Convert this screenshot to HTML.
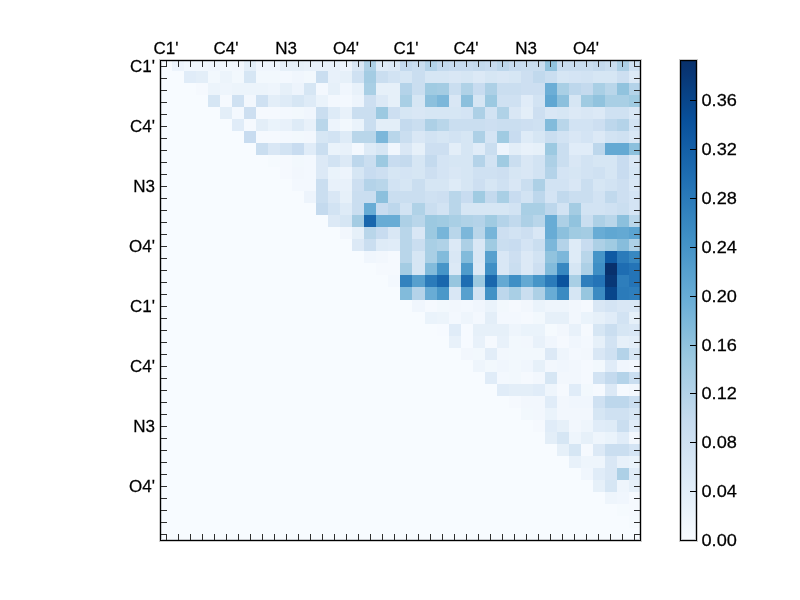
<!DOCTYPE html><html><head><meta charset="utf-8"><style>html,body{margin:0;padding:0;background:#fff;}svg{display:block;}text{font-family:"Liberation Sans",sans-serif;font-size:16.67px;fill:#000;}</style></head><body>
<svg width="800" height="600" viewBox="0 0 800 600">
<rect width="800" height="600" fill="#fff"/>
<g shape-rendering="crispEdges">
<rect x="160" y="60" width="480" height="480" fill="#f7fbff"/>
<rect x="172" y="60" width="12" height="11" fill="#edf4fc"/>
<rect x="184" y="60" width="12" height="11" fill="#f1f7fd"/>
<rect x="196" y="60" width="12" height="11" fill="#f1f7fd"/>
<rect x="208" y="60" width="12" height="11" fill="#f0f6fd"/>
<rect x="220" y="60" width="12" height="11" fill="#f2f8fd"/>
<rect x="232" y="60" width="12" height="11" fill="#f2f7fd"/>
<rect x="244" y="60" width="12" height="11" fill="#e3eef8"/>
<rect x="256" y="60" width="12" height="11" fill="#f0f6fd"/>
<rect x="268" y="60" width="12" height="11" fill="#f0f6fd"/>
<rect x="280" y="60" width="12" height="11" fill="#e6f0f9"/>
<rect x="292" y="60" width="12" height="11" fill="#e6f0f9"/>
<rect x="304" y="60" width="12" height="11" fill="#e8f1fa"/>
<rect x="316" y="60" width="12" height="11" fill="#e8f1fa"/>
<rect x="328" y="60" width="12" height="11" fill="#e8f1fa"/>
<rect x="340" y="60" width="12" height="11" fill="#edf4fc"/>
<rect x="352" y="60" width="12" height="11" fill="#d9e7f5"/>
<rect x="364" y="60" width="12" height="11" fill="#add0e6"/>
<rect x="376" y="60" width="12" height="11" fill="#deebf7"/>
<rect x="388" y="60" width="12" height="11" fill="#dce9f6"/>
<rect x="400" y="60" width="12" height="11" fill="#c4daee"/>
<rect x="412" y="60" width="13" height="11" fill="#cadef0"/>
<rect x="425" y="60" width="12" height="11" fill="#b4d3e9"/>
<rect x="437" y="60" width="12" height="11" fill="#c4daee"/>
<rect x="449" y="60" width="12" height="11" fill="#c8dcf0"/>
<rect x="461" y="60" width="12" height="11" fill="#c8dcf0"/>
<rect x="473" y="60" width="12" height="11" fill="#c4daee"/>
<rect x="485" y="60" width="12" height="11" fill="#c8dcf0"/>
<rect x="497" y="60" width="12" height="11" fill="#bdd7ec"/>
<rect x="509" y="60" width="12" height="11" fill="#c8dcf0"/>
<rect x="521" y="60" width="12" height="11" fill="#cadef0"/>
<rect x="533" y="60" width="12" height="11" fill="#cadef0"/>
<rect x="545" y="60" width="12" height="11" fill="#91c3de"/>
<rect x="557" y="60" width="12" height="11" fill="#cadef0"/>
<rect x="569" y="60" width="12" height="11" fill="#cadef0"/>
<rect x="581" y="60" width="12" height="11" fill="#cadef0"/>
<rect x="593" y="60" width="12" height="11" fill="#c4daee"/>
<rect x="605" y="60" width="12" height="11" fill="#cadef0"/>
<rect x="617" y="60" width="12" height="11" fill="#add0e6"/>
<rect x="629" y="60" width="11" height="11" fill="#cfe1f2"/>
<rect x="184" y="71" width="12" height="12" fill="#e0ecf8"/>
<rect x="196" y="71" width="12" height="12" fill="#e3eef8"/>
<rect x="208" y="71" width="12" height="12" fill="#f2f8fd"/>
<rect x="220" y="71" width="12" height="12" fill="#ecf4fb"/>
<rect x="232" y="71" width="12" height="12" fill="#f2f8fd"/>
<rect x="244" y="71" width="12" height="12" fill="#d6e6f4"/>
<rect x="256" y="71" width="12" height="12" fill="#f2f8fd"/>
<rect x="268" y="71" width="12" height="12" fill="#f2f8fd"/>
<rect x="280" y="71" width="12" height="12" fill="#f3f8fe"/>
<rect x="292" y="71" width="12" height="12" fill="#f0f6fd"/>
<rect x="304" y="71" width="12" height="12" fill="#f2f8fd"/>
<rect x="316" y="71" width="12" height="12" fill="#cadef0"/>
<rect x="328" y="71" width="12" height="12" fill="#e8f1fa"/>
<rect x="340" y="71" width="12" height="12" fill="#e6f0f9"/>
<rect x="352" y="71" width="12" height="12" fill="#cfe1f2"/>
<rect x="364" y="71" width="12" height="12" fill="#a4cce3"/>
<rect x="376" y="71" width="12" height="12" fill="#cadef0"/>
<rect x="388" y="71" width="12" height="12" fill="#d2e3f3"/>
<rect x="400" y="71" width="12" height="12" fill="#d6e6f4"/>
<rect x="412" y="71" width="13" height="12" fill="#cadef0"/>
<rect x="425" y="71" width="12" height="12" fill="#d6e6f4"/>
<rect x="437" y="71" width="12" height="12" fill="#d6e6f4"/>
<rect x="449" y="71" width="12" height="12" fill="#d9e7f5"/>
<rect x="461" y="71" width="12" height="12" fill="#d6e6f4"/>
<rect x="473" y="71" width="12" height="12" fill="#dce9f6"/>
<rect x="485" y="71" width="12" height="12" fill="#d6e6f4"/>
<rect x="497" y="71" width="12" height="12" fill="#d9e7f5"/>
<rect x="509" y="71" width="12" height="12" fill="#d6e6f4"/>
<rect x="521" y="71" width="12" height="12" fill="#cddff1"/>
<rect x="533" y="71" width="12" height="12" fill="#c1d9ed"/>
<rect x="545" y="71" width="12" height="12" fill="#cadef0"/>
<rect x="557" y="71" width="12" height="12" fill="#d6e6f4"/>
<rect x="569" y="71" width="12" height="12" fill="#d4e4f4"/>
<rect x="581" y="71" width="12" height="12" fill="#d2e3f3"/>
<rect x="593" y="71" width="12" height="12" fill="#d6e6f4"/>
<rect x="605" y="71" width="12" height="12" fill="#d6e6f4"/>
<rect x="617" y="71" width="12" height="12" fill="#cddff1"/>
<rect x="629" y="71" width="11" height="12" fill="#dce9f6"/>
<rect x="196" y="83" width="12" height="12" fill="#f5f9fe"/>
<rect x="208" y="83" width="12" height="12" fill="#ecf4fb"/>
<rect x="220" y="83" width="12" height="12" fill="#eef5fc"/>
<rect x="232" y="83" width="12" height="12" fill="#ecf4fb"/>
<rect x="244" y="83" width="12" height="12" fill="#ecf4fb"/>
<rect x="256" y="83" width="12" height="12" fill="#ecf4fb"/>
<rect x="268" y="83" width="12" height="12" fill="#eef5fc"/>
<rect x="280" y="83" width="12" height="12" fill="#e6f0f9"/>
<rect x="292" y="83" width="12" height="12" fill="#edf4fc"/>
<rect x="304" y="83" width="12" height="12" fill="#d6e6f4"/>
<rect x="316" y="83" width="12" height="12" fill="#f3f8fe"/>
<rect x="328" y="83" width="12" height="12" fill="#e6f0f9"/>
<rect x="340" y="83" width="12" height="12" fill="#f0f6fd"/>
<rect x="352" y="83" width="12" height="12" fill="#e8f1fa"/>
<rect x="364" y="83" width="12" height="12" fill="#a9cfe5"/>
<rect x="376" y="83" width="12" height="12" fill="#e6f0f9"/>
<rect x="388" y="83" width="12" height="12" fill="#e6f0f9"/>
<rect x="400" y="83" width="12" height="12" fill="#b4d3e9"/>
<rect x="412" y="83" width="13" height="12" fill="#cadef0"/>
<rect x="425" y="83" width="12" height="12" fill="#a0cbe2"/>
<rect x="437" y="83" width="12" height="12" fill="#a4cce3"/>
<rect x="449" y="83" width="12" height="12" fill="#cadef0"/>
<rect x="461" y="83" width="12" height="12" fill="#b0d2e7"/>
<rect x="473" y="83" width="12" height="12" fill="#c8dcf0"/>
<rect x="485" y="83" width="12" height="12" fill="#add0e6"/>
<rect x="497" y="83" width="12" height="12" fill="#cadef0"/>
<rect x="509" y="83" width="12" height="12" fill="#cadef0"/>
<rect x="521" y="83" width="12" height="12" fill="#cddff1"/>
<rect x="533" y="83" width="12" height="12" fill="#cddff1"/>
<rect x="545" y="83" width="12" height="12" fill="#6caed6"/>
<rect x="557" y="83" width="12" height="12" fill="#a9cfe5"/>
<rect x="569" y="83" width="12" height="12" fill="#bdd7ec"/>
<rect x="581" y="83" width="12" height="12" fill="#c4daee"/>
<rect x="593" y="83" width="12" height="12" fill="#a9cfe5"/>
<rect x="605" y="83" width="12" height="12" fill="#b9d6ea"/>
<rect x="617" y="83" width="12" height="12" fill="#91c3de"/>
<rect x="629" y="83" width="11" height="12" fill="#b4d3e9"/>
<rect x="208" y="95" width="12" height="12" fill="#d6e6f4"/>
<rect x="220" y="95" width="12" height="12" fill="#f5f9fe"/>
<rect x="232" y="95" width="12" height="12" fill="#cfe1f2"/>
<rect x="244" y="95" width="12" height="12" fill="#f2f7fd"/>
<rect x="256" y="95" width="12" height="12" fill="#cfe1f2"/>
<rect x="268" y="95" width="12" height="12" fill="#e3eef8"/>
<rect x="280" y="95" width="12" height="12" fill="#deebf7"/>
<rect x="292" y="95" width="12" height="12" fill="#d6e6f4"/>
<rect x="304" y="95" width="12" height="12" fill="#deebf7"/>
<rect x="316" y="95" width="12" height="12" fill="#eaf3fb"/>
<rect x="328" y="95" width="12" height="12" fill="#f3f8fe"/>
<rect x="340" y="95" width="12" height="12" fill="#f3f8fe"/>
<rect x="352" y="95" width="12" height="12" fill="#edf4fc"/>
<rect x="364" y="95" width="12" height="12" fill="#cddff1"/>
<rect x="376" y="95" width="12" height="12" fill="#dce9f6"/>
<rect x="388" y="95" width="12" height="12" fill="#e6f0f9"/>
<rect x="400" y="95" width="12" height="12" fill="#a9cfe5"/>
<rect x="412" y="95" width="13" height="12" fill="#d6e6f4"/>
<rect x="425" y="95" width="12" height="12" fill="#8cc0dd"/>
<rect x="437" y="95" width="12" height="12" fill="#7cb7da"/>
<rect x="449" y="95" width="12" height="12" fill="#d9e7f5"/>
<rect x="461" y="95" width="12" height="12" fill="#8cc0dd"/>
<rect x="473" y="95" width="12" height="12" fill="#d6e6f4"/>
<rect x="485" y="95" width="12" height="12" fill="#9cc9e1"/>
<rect x="497" y="95" width="12" height="12" fill="#cfe1f2"/>
<rect x="509" y="95" width="12" height="12" fill="#cfe1f2"/>
<rect x="521" y="95" width="12" height="12" fill="#e0ecf8"/>
<rect x="533" y="95" width="12" height="12" fill="#d2e3f3"/>
<rect x="545" y="95" width="12" height="12" fill="#60a7d2"/>
<rect x="557" y="95" width="12" height="12" fill="#8cc0dd"/>
<rect x="569" y="95" width="12" height="12" fill="#d6e6f4"/>
<rect x="581" y="95" width="12" height="12" fill="#a0cbe2"/>
<rect x="593" y="95" width="12" height="12" fill="#91c3de"/>
<rect x="605" y="95" width="12" height="12" fill="#a9cfe5"/>
<rect x="617" y="95" width="12" height="12" fill="#a9cfe5"/>
<rect x="629" y="95" width="11" height="12" fill="#a0cbe2"/>
<rect x="220" y="107" width="12" height="12" fill="#e3eef8"/>
<rect x="232" y="107" width="12" height="12" fill="#f3f8fe"/>
<rect x="244" y="107" width="12" height="12" fill="#cddff1"/>
<rect x="256" y="107" width="12" height="12" fill="#f5f9fe"/>
<rect x="268" y="107" width="12" height="12" fill="#f5f9fe"/>
<rect x="280" y="107" width="12" height="12" fill="#f3f8fe"/>
<rect x="292" y="107" width="12" height="12" fill="#f2f8fd"/>
<rect x="304" y="107" width="12" height="12" fill="#f0f6fd"/>
<rect x="316" y="107" width="12" height="12" fill="#cadef0"/>
<rect x="328" y="107" width="12" height="12" fill="#deebf7"/>
<rect x="340" y="107" width="12" height="12" fill="#e8f1fa"/>
<rect x="352" y="107" width="12" height="12" fill="#cadef0"/>
<rect x="364" y="107" width="12" height="12" fill="#cadef0"/>
<rect x="376" y="107" width="12" height="12" fill="#9cc9e1"/>
<rect x="388" y="107" width="12" height="12" fill="#cddff1"/>
<rect x="400" y="107" width="12" height="12" fill="#d6e6f4"/>
<rect x="412" y="107" width="13" height="12" fill="#d9e7f5"/>
<rect x="425" y="107" width="12" height="12" fill="#d6e6f4"/>
<rect x="437" y="107" width="12" height="12" fill="#d6e6f4"/>
<rect x="449" y="107" width="12" height="12" fill="#d6e6f4"/>
<rect x="461" y="107" width="12" height="12" fill="#d4e4f4"/>
<rect x="473" y="107" width="12" height="12" fill="#add0e6"/>
<rect x="485" y="107" width="12" height="12" fill="#d2e3f3"/>
<rect x="497" y="107" width="12" height="12" fill="#b0d2e7"/>
<rect x="509" y="107" width="12" height="12" fill="#d9e7f5"/>
<rect x="521" y="107" width="12" height="12" fill="#e3eef8"/>
<rect x="533" y="107" width="12" height="12" fill="#cddff1"/>
<rect x="545" y="107" width="12" height="12" fill="#d9e7f5"/>
<rect x="557" y="107" width="12" height="12" fill="#d6e6f4"/>
<rect x="569" y="107" width="12" height="12" fill="#dce9f6"/>
<rect x="581" y="107" width="12" height="12" fill="#d9e7f5"/>
<rect x="593" y="107" width="12" height="12" fill="#dce9f6"/>
<rect x="605" y="107" width="12" height="12" fill="#cfe1f2"/>
<rect x="617" y="107" width="12" height="12" fill="#cfe1f2"/>
<rect x="629" y="107" width="11" height="12" fill="#d9e7f5"/>
<rect x="232" y="119" width="12" height="12" fill="#e0ecf8"/>
<rect x="244" y="119" width="12" height="12" fill="#f5f9fe"/>
<rect x="256" y="119" width="12" height="12" fill="#e3eef8"/>
<rect x="268" y="119" width="12" height="12" fill="#eaf3fb"/>
<rect x="280" y="119" width="12" height="12" fill="#e8f1fa"/>
<rect x="292" y="119" width="12" height="12" fill="#deebf7"/>
<rect x="304" y="119" width="12" height="12" fill="#e8f1fa"/>
<rect x="316" y="119" width="12" height="12" fill="#b9d6ea"/>
<rect x="328" y="119" width="12" height="12" fill="#edf4fc"/>
<rect x="340" y="119" width="12" height="12" fill="#f2f8fd"/>
<rect x="352" y="119" width="12" height="12" fill="#eaf3fb"/>
<rect x="364" y="119" width="12" height="12" fill="#cadef0"/>
<rect x="376" y="119" width="12" height="12" fill="#e3eef8"/>
<rect x="388" y="119" width="12" height="12" fill="#e3eef8"/>
<rect x="400" y="119" width="12" height="12" fill="#c4daee"/>
<rect x="412" y="119" width="13" height="12" fill="#cadef0"/>
<rect x="425" y="119" width="12" height="12" fill="#add0e6"/>
<rect x="437" y="119" width="12" height="12" fill="#b9d6ea"/>
<rect x="449" y="119" width="12" height="12" fill="#cadef0"/>
<rect x="461" y="119" width="12" height="12" fill="#cadef0"/>
<rect x="473" y="119" width="12" height="12" fill="#cadef0"/>
<rect x="485" y="119" width="12" height="12" fill="#cddff1"/>
<rect x="497" y="119" width="12" height="12" fill="#cadef0"/>
<rect x="509" y="119" width="12" height="12" fill="#cadef0"/>
<rect x="521" y="119" width="12" height="12" fill="#cddff1"/>
<rect x="533" y="119" width="12" height="12" fill="#cfe1f2"/>
<rect x="545" y="119" width="12" height="12" fill="#82bbdb"/>
<rect x="557" y="119" width="12" height="12" fill="#b9d6ea"/>
<rect x="569" y="119" width="12" height="12" fill="#d2e3f3"/>
<rect x="581" y="119" width="12" height="12" fill="#d2e3f3"/>
<rect x="593" y="119" width="12" height="12" fill="#cddff1"/>
<rect x="605" y="119" width="12" height="12" fill="#bdd7ec"/>
<rect x="617" y="119" width="12" height="12" fill="#b4d3e9"/>
<rect x="629" y="119" width="11" height="12" fill="#d2e3f3"/>
<rect x="244" y="131" width="12" height="12" fill="#c8dcf0"/>
<rect x="256" y="131" width="12" height="12" fill="#f5f9fe"/>
<rect x="268" y="131" width="12" height="12" fill="#f5f9fe"/>
<rect x="280" y="131" width="12" height="12" fill="#f3f8fe"/>
<rect x="292" y="131" width="12" height="12" fill="#f2f8fd"/>
<rect x="304" y="131" width="12" height="12" fill="#f2f7fd"/>
<rect x="316" y="131" width="12" height="12" fill="#d6e6f4"/>
<rect x="328" y="131" width="12" height="12" fill="#d2e3f3"/>
<rect x="340" y="131" width="12" height="12" fill="#deebf7"/>
<rect x="352" y="131" width="12" height="12" fill="#b9d6ea"/>
<rect x="364" y="131" width="12" height="12" fill="#b9d6ea"/>
<rect x="376" y="131" width="12" height="12" fill="#7cb7da"/>
<rect x="388" y="131" width="12" height="12" fill="#b9d6ea"/>
<rect x="400" y="131" width="12" height="12" fill="#cadef0"/>
<rect x="412" y="131" width="13" height="12" fill="#d9e7f5"/>
<rect x="425" y="131" width="12" height="12" fill="#d2e3f3"/>
<rect x="437" y="131" width="12" height="12" fill="#d6e6f4"/>
<rect x="449" y="131" width="12" height="12" fill="#d2e3f3"/>
<rect x="461" y="131" width="12" height="12" fill="#d6e6f4"/>
<rect x="473" y="131" width="12" height="12" fill="#add0e6"/>
<rect x="485" y="131" width="12" height="12" fill="#d4e4f4"/>
<rect x="497" y="131" width="12" height="12" fill="#a0cbe2"/>
<rect x="509" y="131" width="12" height="12" fill="#c8dcf0"/>
<rect x="521" y="131" width="12" height="12" fill="#deebf7"/>
<rect x="533" y="131" width="12" height="12" fill="#d6e6f4"/>
<rect x="545" y="131" width="12" height="12" fill="#cadef0"/>
<rect x="557" y="131" width="12" height="12" fill="#d2e3f3"/>
<rect x="569" y="131" width="12" height="12" fill="#d9e7f5"/>
<rect x="581" y="131" width="12" height="12" fill="#d4e4f4"/>
<rect x="593" y="131" width="12" height="12" fill="#dce9f6"/>
<rect x="605" y="131" width="12" height="12" fill="#d2e3f3"/>
<rect x="617" y="131" width="12" height="12" fill="#cfe1f2"/>
<rect x="629" y="131" width="11" height="12" fill="#d9e7f5"/>
<rect x="256" y="143" width="12" height="12" fill="#cadef0"/>
<rect x="268" y="143" width="12" height="12" fill="#d9e7f5"/>
<rect x="280" y="143" width="12" height="12" fill="#d2e3f3"/>
<rect x="292" y="143" width="12" height="12" fill="#c8dcf0"/>
<rect x="304" y="143" width="12" height="12" fill="#e0ecf8"/>
<rect x="316" y="143" width="12" height="12" fill="#cadef0"/>
<rect x="328" y="143" width="12" height="12" fill="#eaf3fb"/>
<rect x="340" y="143" width="12" height="12" fill="#e8f1fa"/>
<rect x="352" y="143" width="12" height="12" fill="#f3f8fe"/>
<rect x="364" y="143" width="12" height="12" fill="#deebf7"/>
<rect x="376" y="143" width="12" height="12" fill="#d6e6f4"/>
<rect x="388" y="143" width="12" height="12" fill="#f0f6fd"/>
<rect x="400" y="143" width="12" height="12" fill="#d9e7f5"/>
<rect x="412" y="143" width="13" height="12" fill="#e6f0f9"/>
<rect x="425" y="143" width="12" height="12" fill="#cddff1"/>
<rect x="437" y="143" width="12" height="12" fill="#cddff1"/>
<rect x="449" y="143" width="12" height="12" fill="#e3eef8"/>
<rect x="461" y="143" width="12" height="12" fill="#d6e6f4"/>
<rect x="473" y="143" width="12" height="12" fill="#e0ecf8"/>
<rect x="485" y="143" width="12" height="12" fill="#cadef0"/>
<rect x="497" y="143" width="12" height="12" fill="#edf4fc"/>
<rect x="509" y="143" width="12" height="12" fill="#e3eef8"/>
<rect x="521" y="143" width="12" height="12" fill="#e8f1fa"/>
<rect x="533" y="143" width="12" height="12" fill="#e6f0f9"/>
<rect x="545" y="143" width="12" height="12" fill="#9cc9e1"/>
<rect x="557" y="143" width="12" height="12" fill="#cadef0"/>
<rect x="569" y="143" width="12" height="12" fill="#e0ecf8"/>
<rect x="581" y="143" width="12" height="12" fill="#e0ecf8"/>
<rect x="593" y="143" width="12" height="12" fill="#bdd7ec"/>
<rect x="605" y="143" width="12" height="12" fill="#64a9d3"/>
<rect x="617" y="143" width="12" height="12" fill="#64a9d3"/>
<rect x="629" y="143" width="11" height="12" fill="#8cc0dd"/>
<rect x="268" y="155" width="12" height="12" fill="#f5fafe"/>
<rect x="280" y="155" width="12" height="12" fill="#f5f9fe"/>
<rect x="292" y="155" width="12" height="12" fill="#f2f8fd"/>
<rect x="304" y="155" width="12" height="12" fill="#f3f8fe"/>
<rect x="316" y="155" width="12" height="12" fill="#dce9f6"/>
<rect x="328" y="155" width="12" height="12" fill="#d2e3f3"/>
<rect x="340" y="155" width="12" height="12" fill="#dce9f6"/>
<rect x="352" y="155" width="12" height="12" fill="#bdd7ec"/>
<rect x="364" y="155" width="12" height="12" fill="#cadef0"/>
<rect x="376" y="155" width="12" height="12" fill="#9cc9e1"/>
<rect x="388" y="155" width="12" height="12" fill="#c8dcf0"/>
<rect x="400" y="155" width="12" height="12" fill="#c4daee"/>
<rect x="412" y="155" width="13" height="12" fill="#d6e6f4"/>
<rect x="425" y="155" width="12" height="12" fill="#c4daee"/>
<rect x="437" y="155" width="12" height="12" fill="#d4e4f4"/>
<rect x="449" y="155" width="12" height="12" fill="#d6e6f4"/>
<rect x="461" y="155" width="12" height="12" fill="#d6e6f4"/>
<rect x="473" y="155" width="12" height="12" fill="#b4d3e9"/>
<rect x="485" y="155" width="12" height="12" fill="#d2e3f3"/>
<rect x="497" y="155" width="12" height="12" fill="#a0cbe2"/>
<rect x="509" y="155" width="12" height="12" fill="#cadef0"/>
<rect x="521" y="155" width="12" height="12" fill="#d9e7f5"/>
<rect x="533" y="155" width="12" height="12" fill="#d2e3f3"/>
<rect x="545" y="155" width="12" height="12" fill="#add0e6"/>
<rect x="557" y="155" width="12" height="12" fill="#cadef0"/>
<rect x="569" y="155" width="12" height="12" fill="#d9e7f5"/>
<rect x="581" y="155" width="12" height="12" fill="#d2e3f3"/>
<rect x="593" y="155" width="12" height="12" fill="#d6e6f4"/>
<rect x="605" y="155" width="12" height="12" fill="#d6e6f4"/>
<rect x="617" y="155" width="12" height="12" fill="#c8dcf0"/>
<rect x="629" y="155" width="11" height="12" fill="#d9e7f5"/>
<rect x="280" y="167" width="12" height="12" fill="#f5f9fe"/>
<rect x="292" y="167" width="12" height="12" fill="#f2f7fd"/>
<rect x="304" y="167" width="12" height="12" fill="#f3f8fe"/>
<rect x="316" y="167" width="12" height="12" fill="#dce9f6"/>
<rect x="328" y="167" width="12" height="12" fill="#eaf3fb"/>
<rect x="340" y="167" width="12" height="12" fill="#edf4fc"/>
<rect x="352" y="167" width="12" height="12" fill="#d6e6f4"/>
<rect x="364" y="167" width="12" height="12" fill="#c8dcf0"/>
<rect x="376" y="167" width="12" height="12" fill="#cddff1"/>
<rect x="388" y="167" width="12" height="12" fill="#d6e6f4"/>
<rect x="400" y="167" width="12" height="12" fill="#d4e4f4"/>
<rect x="412" y="167" width="13" height="12" fill="#d6e6f4"/>
<rect x="425" y="167" width="12" height="12" fill="#cddff1"/>
<rect x="437" y="167" width="12" height="12" fill="#d4e4f4"/>
<rect x="449" y="167" width="12" height="12" fill="#d9e7f5"/>
<rect x="461" y="167" width="12" height="12" fill="#d6e6f4"/>
<rect x="473" y="167" width="12" height="12" fill="#cfe1f2"/>
<rect x="485" y="167" width="12" height="12" fill="#cfe1f2"/>
<rect x="497" y="167" width="12" height="12" fill="#cddff1"/>
<rect x="509" y="167" width="12" height="12" fill="#d6e6f4"/>
<rect x="521" y="167" width="12" height="12" fill="#d9e7f5"/>
<rect x="533" y="167" width="12" height="12" fill="#d2e3f3"/>
<rect x="545" y="167" width="12" height="12" fill="#b4d3e9"/>
<rect x="557" y="167" width="12" height="12" fill="#d4e4f4"/>
<rect x="569" y="167" width="12" height="12" fill="#d6e6f4"/>
<rect x="581" y="167" width="12" height="12" fill="#d2e3f3"/>
<rect x="593" y="167" width="12" height="12" fill="#cfe1f2"/>
<rect x="605" y="167" width="12" height="12" fill="#d6e6f4"/>
<rect x="617" y="167" width="12" height="12" fill="#c8dcf0"/>
<rect x="629" y="167" width="11" height="12" fill="#d6e6f4"/>
<rect x="292" y="179" width="12" height="12" fill="#f3f8fe"/>
<rect x="304" y="179" width="12" height="12" fill="#f3f8fe"/>
<rect x="316" y="179" width="12" height="12" fill="#cadef0"/>
<rect x="328" y="179" width="12" height="12" fill="#e8f1fa"/>
<rect x="340" y="179" width="12" height="12" fill="#e8f1fa"/>
<rect x="352" y="179" width="12" height="12" fill="#cddff1"/>
<rect x="364" y="179" width="12" height="12" fill="#b4d3e9"/>
<rect x="376" y="179" width="12" height="12" fill="#b9d6ea"/>
<rect x="388" y="179" width="12" height="12" fill="#d2e3f3"/>
<rect x="400" y="179" width="12" height="12" fill="#d6e6f4"/>
<rect x="412" y="179" width="13" height="12" fill="#cadef0"/>
<rect x="425" y="179" width="12" height="12" fill="#d6e6f4"/>
<rect x="437" y="179" width="12" height="12" fill="#d6e6f4"/>
<rect x="449" y="179" width="12" height="12" fill="#deebf7"/>
<rect x="461" y="179" width="12" height="12" fill="#d6e6f4"/>
<rect x="473" y="179" width="12" height="12" fill="#cddff1"/>
<rect x="485" y="179" width="12" height="12" fill="#d6e6f4"/>
<rect x="497" y="179" width="12" height="12" fill="#cfe1f2"/>
<rect x="509" y="179" width="12" height="12" fill="#d9e7f5"/>
<rect x="521" y="179" width="12" height="12" fill="#cadef0"/>
<rect x="533" y="179" width="12" height="12" fill="#add0e6"/>
<rect x="545" y="179" width="12" height="12" fill="#d2e3f3"/>
<rect x="557" y="179" width="12" height="12" fill="#d2e3f3"/>
<rect x="569" y="179" width="12" height="12" fill="#d9e7f5"/>
<rect x="581" y="179" width="12" height="12" fill="#cadef0"/>
<rect x="593" y="179" width="12" height="12" fill="#d6e6f4"/>
<rect x="605" y="179" width="12" height="12" fill="#d2e3f3"/>
<rect x="617" y="179" width="12" height="12" fill="#cddff1"/>
<rect x="629" y="179" width="11" height="12" fill="#d9e7f5"/>
<rect x="304" y="191" width="12" height="12" fill="#edf4fc"/>
<rect x="316" y="191" width="12" height="12" fill="#cadef0"/>
<rect x="328" y="191" width="12" height="12" fill="#d9e7f5"/>
<rect x="340" y="191" width="12" height="12" fill="#e6f0f9"/>
<rect x="352" y="191" width="12" height="12" fill="#cadef0"/>
<rect x="364" y="191" width="12" height="12" fill="#cadef0"/>
<rect x="376" y="191" width="12" height="12" fill="#8cc0dd"/>
<rect x="388" y="191" width="12" height="12" fill="#cadef0"/>
<rect x="400" y="191" width="12" height="12" fill="#cadef0"/>
<rect x="412" y="191" width="13" height="12" fill="#cadef0"/>
<rect x="425" y="191" width="12" height="12" fill="#cfe1f2"/>
<rect x="437" y="191" width="12" height="12" fill="#cddff1"/>
<rect x="449" y="191" width="12" height="12" fill="#b9d6ea"/>
<rect x="461" y="191" width="12" height="12" fill="#c8dcf0"/>
<rect x="473" y="191" width="12" height="12" fill="#a0cbe2"/>
<rect x="485" y="191" width="12" height="12" fill="#c4daee"/>
<rect x="497" y="191" width="12" height="12" fill="#a9cfe5"/>
<rect x="509" y="191" width="12" height="12" fill="#c8dcf0"/>
<rect x="521" y="191" width="12" height="12" fill="#d2e3f3"/>
<rect x="533" y="191" width="12" height="12" fill="#bdd7ec"/>
<rect x="545" y="191" width="12" height="12" fill="#d4e4f4"/>
<rect x="557" y="191" width="12" height="12" fill="#c1d9ed"/>
<rect x="569" y="191" width="12" height="12" fill="#cadef0"/>
<rect x="581" y="191" width="12" height="12" fill="#cadef0"/>
<rect x="593" y="191" width="12" height="12" fill="#d2e3f3"/>
<rect x="605" y="191" width="12" height="12" fill="#c1d9ed"/>
<rect x="617" y="191" width="12" height="12" fill="#cddff1"/>
<rect x="629" y="191" width="11" height="12" fill="#d4e4f4"/>
<rect x="316" y="203" width="12" height="12" fill="#c4daee"/>
<rect x="328" y="203" width="12" height="12" fill="#d2e3f3"/>
<rect x="340" y="203" width="12" height="12" fill="#deebf7"/>
<rect x="352" y="203" width="12" height="12" fill="#cadef0"/>
<rect x="364" y="203" width="12" height="12" fill="#68acd5"/>
<rect x="376" y="203" width="12" height="12" fill="#c8dcf0"/>
<rect x="388" y="203" width="12" height="12" fill="#bdd7ec"/>
<rect x="400" y="203" width="12" height="12" fill="#d2e3f3"/>
<rect x="412" y="203" width="13" height="12" fill="#b0d2e7"/>
<rect x="425" y="203" width="12" height="12" fill="#cadef0"/>
<rect x="437" y="203" width="12" height="12" fill="#d2e3f3"/>
<rect x="449" y="203" width="12" height="12" fill="#b9d6ea"/>
<rect x="461" y="203" width="12" height="12" fill="#d6e6f4"/>
<rect x="473" y="203" width="12" height="12" fill="#d6e6f4"/>
<rect x="485" y="203" width="12" height="12" fill="#d6e6f4"/>
<rect x="497" y="203" width="12" height="12" fill="#d6e6f4"/>
<rect x="509" y="203" width="12" height="12" fill="#d2e3f3"/>
<rect x="521" y="203" width="12" height="12" fill="#a9cfe5"/>
<rect x="533" y="203" width="12" height="12" fill="#a9cfe5"/>
<rect x="545" y="203" width="12" height="12" fill="#bdd7ec"/>
<rect x="557" y="203" width="12" height="12" fill="#d2e3f3"/>
<rect x="569" y="203" width="12" height="12" fill="#a4cce3"/>
<rect x="581" y="203" width="12" height="12" fill="#d2e3f3"/>
<rect x="593" y="203" width="12" height="12" fill="#d2e3f3"/>
<rect x="605" y="203" width="12" height="12" fill="#cfe1f2"/>
<rect x="617" y="203" width="12" height="12" fill="#cadef0"/>
<rect x="629" y="203" width="11" height="12" fill="#d4e4f4"/>
<rect x="328" y="215" width="12" height="12" fill="#dce9f6"/>
<rect x="340" y="215" width="12" height="12" fill="#d6e6f4"/>
<rect x="352" y="215" width="12" height="12" fill="#a4cce3"/>
<rect x="364" y="215" width="12" height="12" fill="#1967ad"/>
<rect x="376" y="215" width="12" height="12" fill="#68acd5"/>
<rect x="388" y="215" width="12" height="12" fill="#68acd5"/>
<rect x="400" y="215" width="12" height="12" fill="#add0e6"/>
<rect x="412" y="215" width="13" height="12" fill="#b9d6ea"/>
<rect x="425" y="215" width="12" height="12" fill="#9cc9e1"/>
<rect x="437" y="215" width="12" height="12" fill="#a0cbe2"/>
<rect x="449" y="215" width="12" height="12" fill="#a9cfe5"/>
<rect x="461" y="215" width="12" height="12" fill="#b0d2e7"/>
<rect x="473" y="215" width="12" height="12" fill="#b4d3e9"/>
<rect x="485" y="215" width="12" height="12" fill="#a0cbe2"/>
<rect x="497" y="215" width="12" height="12" fill="#b4d3e9"/>
<rect x="509" y="215" width="12" height="12" fill="#c1d9ed"/>
<rect x="521" y="215" width="12" height="12" fill="#add0e6"/>
<rect x="533" y="215" width="12" height="12" fill="#b9d6ea"/>
<rect x="545" y="215" width="12" height="12" fill="#68acd5"/>
<rect x="557" y="215" width="12" height="12" fill="#add0e6"/>
<rect x="569" y="215" width="12" height="12" fill="#91c3de"/>
<rect x="581" y="215" width="12" height="12" fill="#cadef0"/>
<rect x="593" y="215" width="12" height="12" fill="#add0e6"/>
<rect x="605" y="215" width="12" height="12" fill="#b9d6ea"/>
<rect x="617" y="215" width="12" height="12" fill="#8cc0dd"/>
<rect x="629" y="215" width="11" height="12" fill="#b9d6ea"/>
<rect x="340" y="227" width="12" height="12" fill="#f2f7fd"/>
<rect x="352" y="227" width="12" height="12" fill="#e6f0f9"/>
<rect x="364" y="227" width="12" height="12" fill="#b9d6ea"/>
<rect x="376" y="227" width="12" height="12" fill="#c8dcf0"/>
<rect x="388" y="227" width="12" height="12" fill="#d9e7f5"/>
<rect x="400" y="227" width="12" height="12" fill="#b9d6ea"/>
<rect x="412" y="227" width="13" height="12" fill="#d9e7f5"/>
<rect x="425" y="227" width="12" height="12" fill="#9cc9e1"/>
<rect x="437" y="227" width="12" height="12" fill="#77b5d9"/>
<rect x="449" y="227" width="12" height="12" fill="#b9d6ea"/>
<rect x="461" y="227" width="12" height="12" fill="#7cb7da"/>
<rect x="473" y="227" width="12" height="12" fill="#b9d6ea"/>
<rect x="485" y="227" width="12" height="12" fill="#77b5d9"/>
<rect x="497" y="227" width="12" height="12" fill="#cddff1"/>
<rect x="509" y="227" width="12" height="12" fill="#d2e3f3"/>
<rect x="521" y="227" width="12" height="12" fill="#cddff1"/>
<rect x="533" y="227" width="12" height="12" fill="#d9e7f5"/>
<rect x="545" y="227" width="12" height="12" fill="#68acd5"/>
<rect x="557" y="227" width="12" height="12" fill="#8cc0dd"/>
<rect x="569" y="227" width="12" height="12" fill="#a0cbe2"/>
<rect x="581" y="227" width="12" height="12" fill="#a4cce3"/>
<rect x="593" y="227" width="12" height="12" fill="#68acd5"/>
<rect x="605" y="227" width="12" height="12" fill="#60a7d2"/>
<rect x="617" y="227" width="12" height="12" fill="#64a9d3"/>
<rect x="629" y="227" width="11" height="12" fill="#5ba3d0"/>
<rect x="352" y="239" width="12" height="12" fill="#dce9f6"/>
<rect x="364" y="239" width="12" height="12" fill="#cadef0"/>
<rect x="376" y="239" width="12" height="12" fill="#deebf7"/>
<rect x="388" y="239" width="12" height="12" fill="#e0ecf8"/>
<rect x="400" y="239" width="12" height="12" fill="#b9d6ea"/>
<rect x="412" y="239" width="13" height="12" fill="#cadef0"/>
<rect x="425" y="239" width="12" height="12" fill="#a9cfe5"/>
<rect x="437" y="239" width="12" height="12" fill="#b0d2e7"/>
<rect x="449" y="239" width="12" height="12" fill="#dce9f6"/>
<rect x="461" y="239" width="12" height="12" fill="#add0e6"/>
<rect x="473" y="239" width="12" height="12" fill="#d9e7f5"/>
<rect x="485" y="239" width="12" height="12" fill="#a0cbe2"/>
<rect x="497" y="239" width="12" height="12" fill="#cadef0"/>
<rect x="509" y="239" width="12" height="12" fill="#c8dcf0"/>
<rect x="521" y="239" width="12" height="12" fill="#d4e4f4"/>
<rect x="533" y="239" width="12" height="12" fill="#cadef0"/>
<rect x="545" y="239" width="12" height="12" fill="#7cb7da"/>
<rect x="557" y="239" width="12" height="12" fill="#b4d3e9"/>
<rect x="569" y="239" width="12" height="12" fill="#deebf7"/>
<rect x="581" y="239" width="12" height="12" fill="#c8dcf0"/>
<rect x="593" y="239" width="12" height="12" fill="#add0e6"/>
<rect x="605" y="239" width="12" height="12" fill="#a0cbe2"/>
<rect x="617" y="239" width="12" height="12" fill="#87bddc"/>
<rect x="629" y="239" width="11" height="12" fill="#add0e6"/>
<rect x="364" y="251" width="12" height="12" fill="#f0f6fd"/>
<rect x="376" y="251" width="12" height="12" fill="#f2f7fd"/>
<rect x="388" y="251" width="12" height="12" fill="#f5f9fe"/>
<rect x="400" y="251" width="12" height="12" fill="#b9d6ea"/>
<rect x="412" y="251" width="13" height="12" fill="#d6e6f4"/>
<rect x="425" y="251" width="12" height="12" fill="#a9cfe5"/>
<rect x="437" y="251" width="12" height="12" fill="#82bbdb"/>
<rect x="449" y="251" width="12" height="12" fill="#d9e7f5"/>
<rect x="461" y="251" width="12" height="12" fill="#82bbdb"/>
<rect x="473" y="251" width="12" height="12" fill="#d9e7f5"/>
<rect x="485" y="251" width="12" height="12" fill="#57a0ce"/>
<rect x="497" y="251" width="12" height="12" fill="#d9e7f5"/>
<rect x="509" y="251" width="12" height="12" fill="#cddff1"/>
<rect x="521" y="251" width="12" height="12" fill="#dce9f6"/>
<rect x="533" y="251" width="12" height="12" fill="#d2e3f3"/>
<rect x="545" y="251" width="12" height="12" fill="#91c3de"/>
<rect x="557" y="251" width="12" height="12" fill="#7cb7da"/>
<rect x="569" y="251" width="12" height="12" fill="#deebf7"/>
<rect x="581" y="251" width="12" height="12" fill="#b9d6ea"/>
<rect x="593" y="251" width="12" height="12" fill="#4695c8"/>
<rect x="605" y="251" width="12" height="12" fill="#0f5aa3"/>
<rect x="617" y="251" width="12" height="12" fill="#2b7bba"/>
<rect x="629" y="251" width="11" height="12" fill="#3888c1"/>
<rect x="376" y="263" width="12" height="12" fill="#f5f9fe"/>
<rect x="388" y="263" width="12" height="12" fill="#f5f9fe"/>
<rect x="400" y="263" width="12" height="12" fill="#a4cce3"/>
<rect x="412" y="263" width="13" height="12" fill="#d6e6f4"/>
<rect x="425" y="263" width="12" height="12" fill="#82bbdb"/>
<rect x="437" y="263" width="12" height="12" fill="#4695c8"/>
<rect x="449" y="263" width="12" height="12" fill="#dce9f6"/>
<rect x="461" y="263" width="12" height="12" fill="#4f9bcb"/>
<rect x="473" y="263" width="12" height="12" fill="#dce9f6"/>
<rect x="485" y="263" width="12" height="12" fill="#3f8fc5"/>
<rect x="497" y="263" width="12" height="12" fill="#d9e7f5"/>
<rect x="509" y="263" width="12" height="12" fill="#cadef0"/>
<rect x="521" y="263" width="12" height="12" fill="#dce9f6"/>
<rect x="533" y="263" width="12" height="12" fill="#cddff1"/>
<rect x="545" y="263" width="12" height="12" fill="#82bbdb"/>
<rect x="557" y="263" width="12" height="12" fill="#3888c1"/>
<rect x="569" y="263" width="12" height="12" fill="#d6e6f4"/>
<rect x="581" y="263" width="12" height="12" fill="#add0e6"/>
<rect x="593" y="263" width="12" height="12" fill="#3f8fc5"/>
<rect x="605" y="263" width="12" height="12" fill="#08316d"/>
<rect x="617" y="263" width="12" height="12" fill="#1e6db2"/>
<rect x="629" y="263" width="11" height="12" fill="#2474b7"/>
<rect x="388" y="275" width="12" height="12" fill="#f3f8fe"/>
<rect x="400" y="275" width="12" height="12" fill="#3282be"/>
<rect x="412" y="275" width="13" height="12" fill="#57a0ce"/>
<rect x="425" y="275" width="12" height="12" fill="#2b7bba"/>
<rect x="437" y="275" width="12" height="12" fill="#1967ad"/>
<rect x="449" y="275" width="12" height="12" fill="#97c6df"/>
<rect x="461" y="275" width="12" height="12" fill="#1e6db2"/>
<rect x="473" y="275" width="12" height="12" fill="#9cc9e1"/>
<rect x="485" y="275" width="12" height="12" fill="#1967ad"/>
<rect x="497" y="275" width="12" height="12" fill="#64a9d3"/>
<rect x="509" y="275" width="12" height="12" fill="#3f8fc5"/>
<rect x="521" y="275" width="12" height="12" fill="#64a9d3"/>
<rect x="533" y="275" width="12" height="12" fill="#4695c8"/>
<rect x="545" y="275" width="12" height="12" fill="#2b7bba"/>
<rect x="557" y="275" width="12" height="12" fill="#0a539e"/>
<rect x="569" y="275" width="12" height="12" fill="#a9cfe5"/>
<rect x="581" y="275" width="12" height="12" fill="#2e7ebc"/>
<rect x="593" y="275" width="12" height="12" fill="#2474b7"/>
<rect x="605" y="275" width="12" height="12" fill="#083877"/>
<rect x="617" y="275" width="12" height="12" fill="#2e7ebc"/>
<rect x="629" y="275" width="11" height="12" fill="#2474b7"/>
<rect x="400" y="287" width="12" height="13" fill="#82bbdb"/>
<rect x="412" y="287" width="13" height="13" fill="#b4d3e9"/>
<rect x="425" y="287" width="12" height="13" fill="#68acd5"/>
<rect x="437" y="287" width="12" height="13" fill="#4a98c9"/>
<rect x="449" y="287" width="12" height="13" fill="#d9e7f5"/>
<rect x="461" y="287" width="12" height="13" fill="#57a0ce"/>
<rect x="473" y="287" width="12" height="13" fill="#d2e3f3"/>
<rect x="485" y="287" width="12" height="13" fill="#4292c6"/>
<rect x="497" y="287" width="12" height="13" fill="#bdd7ec"/>
<rect x="509" y="287" width="12" height="13" fill="#a9cfe5"/>
<rect x="521" y="287" width="12" height="13" fill="#cadef0"/>
<rect x="533" y="287" width="12" height="13" fill="#add0e6"/>
<rect x="545" y="287" width="12" height="13" fill="#68acd5"/>
<rect x="557" y="287" width="12" height="13" fill="#3b8bc2"/>
<rect x="569" y="287" width="12" height="13" fill="#d6e6f4"/>
<rect x="581" y="287" width="12" height="13" fill="#97c6df"/>
<rect x="593" y="287" width="12" height="13" fill="#3b8bc2"/>
<rect x="605" y="287" width="12" height="13" fill="#08468b"/>
<rect x="617" y="287" width="12" height="13" fill="#2b7bba"/>
<rect x="629" y="287" width="11" height="13" fill="#2e7ebc"/>
<rect x="412" y="300" width="13" height="12" fill="#f0f6fd"/>
<rect x="425" y="300" width="12" height="12" fill="#f5f9fe"/>
<rect x="437" y="300" width="12" height="12" fill="#f2f8fd"/>
<rect x="449" y="300" width="12" height="12" fill="#f2f7fd"/>
<rect x="461" y="300" width="12" height="12" fill="#f3f8fe"/>
<rect x="473" y="300" width="12" height="12" fill="#f0f6fd"/>
<rect x="485" y="300" width="12" height="12" fill="#eaf3fb"/>
<rect x="497" y="300" width="12" height="12" fill="#f2f8fd"/>
<rect x="509" y="300" width="12" height="12" fill="#f5f9fe"/>
<rect x="521" y="300" width="12" height="12" fill="#f2f7fd"/>
<rect x="533" y="300" width="12" height="12" fill="#eaf3fb"/>
<rect x="545" y="300" width="12" height="12" fill="#eef5fc"/>
<rect x="557" y="300" width="12" height="12" fill="#eef5fc"/>
<rect x="569" y="300" width="12" height="12" fill="#f2f7fd"/>
<rect x="581" y="300" width="12" height="12" fill="#f5f9fe"/>
<rect x="593" y="300" width="12" height="12" fill="#d9e7f5"/>
<rect x="605" y="300" width="12" height="12" fill="#d4e4f4"/>
<rect x="617" y="300" width="12" height="12" fill="#d9e7f5"/>
<rect x="629" y="300" width="11" height="12" fill="#d9e7f5"/>
<rect x="425" y="312" width="12" height="12" fill="#eaf3fb"/>
<rect x="437" y="312" width="12" height="12" fill="#ecf4fb"/>
<rect x="449" y="312" width="12" height="12" fill="#f3f8fe"/>
<rect x="461" y="312" width="12" height="12" fill="#eef5fc"/>
<rect x="473" y="312" width="12" height="12" fill="#f3f8fe"/>
<rect x="485" y="312" width="12" height="12" fill="#e3eef8"/>
<rect x="497" y="312" width="12" height="12" fill="#f3f8fe"/>
<rect x="509" y="312" width="12" height="12" fill="#f3f8fe"/>
<rect x="521" y="312" width="12" height="12" fill="#f5f9fe"/>
<rect x="533" y="312" width="12" height="12" fill="#f2f8fd"/>
<rect x="545" y="312" width="12" height="12" fill="#e6f0f9"/>
<rect x="557" y="312" width="12" height="12" fill="#e6f0f9"/>
<rect x="569" y="312" width="12" height="12" fill="#f2f7fd"/>
<rect x="581" y="312" width="12" height="12" fill="#eaf3fb"/>
<rect x="593" y="312" width="12" height="12" fill="#e6f0f9"/>
<rect x="605" y="312" width="12" height="12" fill="#e0ecf8"/>
<rect x="617" y="312" width="12" height="12" fill="#d2e3f3"/>
<rect x="629" y="312" width="11" height="12" fill="#e6f0f9"/>
<rect x="437" y="324" width="12" height="12" fill="#f6faff"/>
<rect x="449" y="324" width="12" height="12" fill="#e0ecf8"/>
<rect x="461" y="324" width="12" height="12" fill="#f6faff"/>
<rect x="473" y="324" width="12" height="12" fill="#e6f0f9"/>
<rect x="485" y="324" width="12" height="12" fill="#e6f0f9"/>
<rect x="497" y="324" width="12" height="12" fill="#e6f0f9"/>
<rect x="509" y="324" width="12" height="12" fill="#eef5fc"/>
<rect x="521" y="324" width="12" height="12" fill="#eaf3fb"/>
<rect x="533" y="324" width="12" height="12" fill="#eaf3fb"/>
<rect x="545" y="324" width="12" height="12" fill="#f5fafe"/>
<rect x="557" y="324" width="12" height="12" fill="#f2f7fd"/>
<rect x="569" y="324" width="12" height="12" fill="#e8f1fa"/>
<rect x="581" y="324" width="12" height="12" fill="#f5f9fe"/>
<rect x="593" y="324" width="12" height="12" fill="#d6e6f4"/>
<rect x="605" y="324" width="12" height="12" fill="#cadef0"/>
<rect x="617" y="324" width="12" height="12" fill="#d6e6f4"/>
<rect x="629" y="324" width="11" height="12" fill="#d9e7f5"/>
<rect x="449" y="336" width="12" height="12" fill="#e8f1fa"/>
<rect x="461" y="336" width="12" height="12" fill="#f6faff"/>
<rect x="473" y="336" width="12" height="12" fill="#e8f1fa"/>
<rect x="485" y="336" width="12" height="12" fill="#f5f9fe"/>
<rect x="497" y="336" width="12" height="12" fill="#e8f1fa"/>
<rect x="509" y="336" width="12" height="12" fill="#f2f8fd"/>
<rect x="521" y="336" width="12" height="12" fill="#f2f7fd"/>
<rect x="533" y="336" width="12" height="12" fill="#e8f1fa"/>
<rect x="545" y="336" width="12" height="12" fill="#f0f6fd"/>
<rect x="557" y="336" width="12" height="12" fill="#f5f9fe"/>
<rect x="569" y="336" width="12" height="12" fill="#f0f6fd"/>
<rect x="581" y="336" width="12" height="12" fill="#f3f8fe"/>
<rect x="593" y="336" width="12" height="12" fill="#e6f0f9"/>
<rect x="605" y="336" width="12" height="12" fill="#d2e3f3"/>
<rect x="617" y="336" width="12" height="12" fill="#e6f0f9"/>
<rect x="629" y="336" width="11" height="12" fill="#e3eef8"/>
<rect x="461" y="348" width="12" height="12" fill="#f2f7fd"/>
<rect x="473" y="348" width="12" height="12" fill="#f2f8fd"/>
<rect x="485" y="348" width="12" height="12" fill="#e2edf8"/>
<rect x="497" y="348" width="12" height="12" fill="#f2f7fd"/>
<rect x="509" y="348" width="12" height="12" fill="#f2f8fd"/>
<rect x="521" y="348" width="12" height="12" fill="#f2f8fd"/>
<rect x="533" y="348" width="12" height="12" fill="#f2f8fd"/>
<rect x="545" y="348" width="12" height="12" fill="#dce9f6"/>
<rect x="557" y="348" width="12" height="12" fill="#eef5fc"/>
<rect x="569" y="348" width="12" height="12" fill="#f3f8fe"/>
<rect x="581" y="348" width="12" height="12" fill="#f2f7fd"/>
<rect x="593" y="348" width="12" height="12" fill="#d9e7f5"/>
<rect x="605" y="348" width="12" height="12" fill="#cfe1f2"/>
<rect x="617" y="348" width="12" height="12" fill="#b4d3e9"/>
<rect x="629" y="348" width="11" height="12" fill="#d6e6f4"/>
<rect x="473" y="360" width="12" height="12" fill="#eef5fc"/>
<rect x="485" y="360" width="12" height="12" fill="#f2f8fd"/>
<rect x="497" y="360" width="12" height="12" fill="#f0f6fd"/>
<rect x="509" y="360" width="12" height="12" fill="#f2f8fd"/>
<rect x="521" y="360" width="12" height="12" fill="#f0f6fd"/>
<rect x="533" y="360" width="12" height="12" fill="#e6f0f9"/>
<rect x="545" y="360" width="12" height="12" fill="#f2f7fd"/>
<rect x="557" y="360" width="12" height="12" fill="#f0f6fd"/>
<rect x="569" y="360" width="12" height="12" fill="#f2f7fd"/>
<rect x="581" y="360" width="12" height="12" fill="#f5f9fe"/>
<rect x="593" y="360" width="12" height="12" fill="#f2f8fd"/>
<rect x="605" y="360" width="12" height="12" fill="#e0ecf8"/>
<rect x="617" y="360" width="12" height="12" fill="#f0f6fd"/>
<rect x="629" y="360" width="11" height="12" fill="#f2f7fd"/>
<rect x="485" y="372" width="12" height="12" fill="#e0ecf8"/>
<rect x="497" y="372" width="12" height="12" fill="#f3f8fe"/>
<rect x="509" y="372" width="12" height="12" fill="#f2f8fd"/>
<rect x="521" y="372" width="12" height="12" fill="#f5f9fe"/>
<rect x="533" y="372" width="12" height="12" fill="#f2f7fd"/>
<rect x="545" y="372" width="12" height="12" fill="#d6e6f4"/>
<rect x="557" y="372" width="12" height="12" fill="#f2f7fd"/>
<rect x="569" y="372" width="12" height="12" fill="#f2f7fd"/>
<rect x="581" y="372" width="12" height="12" fill="#f5f9fe"/>
<rect x="593" y="372" width="12" height="12" fill="#d2e3f3"/>
<rect x="605" y="372" width="12" height="12" fill="#c4daee"/>
<rect x="617" y="372" width="12" height="12" fill="#b4d3e9"/>
<rect x="629" y="372" width="11" height="12" fill="#cadef0"/>
<rect x="497" y="384" width="12" height="12" fill="#e0ecf8"/>
<rect x="509" y="384" width="12" height="12" fill="#e3eef8"/>
<rect x="521" y="384" width="12" height="12" fill="#e3eef8"/>
<rect x="533" y="384" width="12" height="12" fill="#e0ecf8"/>
<rect x="545" y="384" width="12" height="12" fill="#eef5fc"/>
<rect x="557" y="384" width="12" height="12" fill="#f5f9fe"/>
<rect x="569" y="384" width="12" height="12" fill="#e0ecf8"/>
<rect x="581" y="384" width="12" height="12" fill="#f2f8fd"/>
<rect x="593" y="384" width="12" height="12" fill="#f5f9fe"/>
<rect x="605" y="384" width="12" height="12" fill="#dce9f6"/>
<rect x="617" y="384" width="12" height="12" fill="#f5f9fe"/>
<rect x="629" y="384" width="11" height="12" fill="#f2f7fd"/>
<rect x="509" y="396" width="12" height="12" fill="#f5f9fe"/>
<rect x="521" y="396" width="12" height="12" fill="#f2f7fd"/>
<rect x="533" y="396" width="12" height="12" fill="#f2f7fd"/>
<rect x="545" y="396" width="12" height="12" fill="#e0ecf8"/>
<rect x="557" y="396" width="12" height="12" fill="#f2f7fd"/>
<rect x="569" y="396" width="12" height="12" fill="#f0f6fd"/>
<rect x="581" y="396" width="12" height="12" fill="#f0f6fd"/>
<rect x="593" y="396" width="12" height="12" fill="#cfe1f2"/>
<rect x="605" y="396" width="12" height="12" fill="#bdd7ec"/>
<rect x="617" y="396" width="12" height="12" fill="#bdd7ec"/>
<rect x="629" y="396" width="11" height="12" fill="#cadef0"/>
<rect x="521" y="408" width="12" height="12" fill="#f2f8fd"/>
<rect x="533" y="408" width="12" height="12" fill="#f2f7fd"/>
<rect x="545" y="408" width="12" height="12" fill="#eaf3fb"/>
<rect x="557" y="408" width="12" height="12" fill="#f2f7fd"/>
<rect x="569" y="408" width="12" height="12" fill="#f2f7fd"/>
<rect x="581" y="408" width="12" height="12" fill="#f2f7fd"/>
<rect x="593" y="408" width="12" height="12" fill="#d6e6f4"/>
<rect x="605" y="408" width="12" height="12" fill="#cfe1f2"/>
<rect x="617" y="408" width="12" height="12" fill="#cfe1f2"/>
<rect x="629" y="408" width="11" height="12" fill="#d6e6f4"/>
<rect x="533" y="420" width="12" height="12" fill="#f5f9fe"/>
<rect x="545" y="420" width="12" height="12" fill="#e0ecf8"/>
<rect x="557" y="420" width="12" height="12" fill="#e6f0f9"/>
<rect x="569" y="420" width="12" height="12" fill="#f2f7fd"/>
<rect x="581" y="420" width="12" height="12" fill="#eef5fc"/>
<rect x="593" y="420" width="12" height="12" fill="#e0ecf8"/>
<rect x="605" y="420" width="12" height="12" fill="#deebf7"/>
<rect x="617" y="420" width="12" height="12" fill="#cadef0"/>
<rect x="629" y="420" width="11" height="12" fill="#e0ecf8"/>
<rect x="545" y="432" width="12" height="12" fill="#e3eef8"/>
<rect x="557" y="432" width="12" height="12" fill="#d6e6f4"/>
<rect x="569" y="432" width="12" height="12" fill="#eef5fc"/>
<rect x="581" y="432" width="12" height="12" fill="#e6f0f9"/>
<rect x="593" y="432" width="12" height="12" fill="#eef5fc"/>
<rect x="605" y="432" width="12" height="12" fill="#eaf3fb"/>
<rect x="617" y="432" width="12" height="12" fill="#e0ecf8"/>
<rect x="629" y="432" width="11" height="12" fill="#f2f7fd"/>
<rect x="557" y="444" width="12" height="12" fill="#e6f0f9"/>
<rect x="569" y="444" width="12" height="12" fill="#d6e6f4"/>
<rect x="581" y="444" width="12" height="12" fill="#f5f9fe"/>
<rect x="593" y="444" width="12" height="12" fill="#dce9f6"/>
<rect x="605" y="444" width="12" height="12" fill="#cadef0"/>
<rect x="617" y="444" width="12" height="12" fill="#cadef0"/>
<rect x="629" y="444" width="11" height="12" fill="#d4e4f4"/>
<rect x="569" y="456" width="12" height="12" fill="#e8f1fa"/>
<rect x="581" y="456" width="12" height="12" fill="#eef5fc"/>
<rect x="593" y="456" width="12" height="12" fill="#eef5fc"/>
<rect x="605" y="456" width="12" height="12" fill="#d9e7f5"/>
<rect x="617" y="456" width="12" height="12" fill="#e8f1fa"/>
<rect x="629" y="456" width="11" height="12" fill="#eaf3fb"/>
<rect x="581" y="468" width="12" height="12" fill="#f0f6fd"/>
<rect x="593" y="468" width="12" height="12" fill="#e0ecf8"/>
<rect x="605" y="468" width="12" height="12" fill="#d9e7f5"/>
<rect x="617" y="468" width="12" height="12" fill="#add0e6"/>
<rect x="629" y="468" width="11" height="12" fill="#e0ecf8"/>
<rect x="593" y="480" width="12" height="12" fill="#e6f0f9"/>
<rect x="605" y="480" width="12" height="12" fill="#d6e6f4"/>
<rect x="617" y="480" width="12" height="12" fill="#eef5fc"/>
<rect x="629" y="480" width="11" height="12" fill="#e6f0f9"/>
<rect x="605" y="492" width="12" height="12" fill="#eef5fc"/>
<rect x="617" y="492" width="12" height="12" fill="#f0f6fd"/>
<rect x="629" y="492" width="11" height="12" fill="#f5f9fe"/>
<rect x="617" y="504" width="12" height="12" fill="#f5fafe"/>
<rect x="629" y="504" width="11" height="12" fill="#f5f9fe"/>
<rect x="629" y="516" width="11" height="12" fill="#f5fafe"/>
</g>
<g fill="#000" shape-rendering="crispEdges">
<g fill-opacity="0.2"><rect x="159" y="59" width="483" height="1"/><rect x="159" y="541" width="483" height="1"/><rect x="159" y="60" width="1" height="481"/><rect x="641" y="60" width="1" height="481"/><rect x="161" y="61" width="479" height="1"/><rect x="161" y="539" width="479" height="1"/><rect x="161" y="62" width="1" height="477"/><rect x="639" y="62" width="1" height="477"/></g>
<rect x="160" y="60" width="481" height="1"/>
<rect x="160" y="540" width="481" height="1"/>
<rect x="160" y="60" width="1" height="481"/>
<rect x="640" y="60" width="1" height="481"/>
</g><g fill="#2e2e2e" shape-rendering="crispEdges">
<rect x="166" y="61" width="1" height="6"/>
<rect x="166" y="534" width="1" height="6"/>
<rect x="161" y="66" width="6" height="1"/>
<rect x="634" y="66" width="6" height="1"/>
<rect x="178" y="61" width="1" height="6"/>
<rect x="178" y="534" width="1" height="6"/>
<rect x="161" y="78" width="6" height="1"/>
<rect x="634" y="78" width="6" height="1"/>
<rect x="190" y="61" width="1" height="6"/>
<rect x="190" y="534" width="1" height="6"/>
<rect x="161" y="90" width="6" height="1"/>
<rect x="634" y="90" width="6" height="1"/>
<rect x="202" y="61" width="1" height="6"/>
<rect x="202" y="534" width="1" height="6"/>
<rect x="161" y="102" width="6" height="1"/>
<rect x="634" y="102" width="6" height="1"/>
<rect x="214" y="61" width="1" height="6"/>
<rect x="214" y="534" width="1" height="6"/>
<rect x="161" y="114" width="6" height="1"/>
<rect x="634" y="114" width="6" height="1"/>
<rect x="226" y="61" width="1" height="6"/>
<rect x="226" y="534" width="1" height="6"/>
<rect x="161" y="126" width="6" height="1"/>
<rect x="634" y="126" width="6" height="1"/>
<rect x="238" y="61" width="1" height="6"/>
<rect x="238" y="534" width="1" height="6"/>
<rect x="161" y="138" width="6" height="1"/>
<rect x="634" y="138" width="6" height="1"/>
<rect x="250" y="61" width="1" height="6"/>
<rect x="250" y="534" width="1" height="6"/>
<rect x="161" y="150" width="6" height="1"/>
<rect x="634" y="150" width="6" height="1"/>
<rect x="262" y="61" width="1" height="6"/>
<rect x="262" y="534" width="1" height="6"/>
<rect x="161" y="162" width="6" height="1"/>
<rect x="634" y="162" width="6" height="1"/>
<rect x="274" y="61" width="1" height="6"/>
<rect x="274" y="534" width="1" height="6"/>
<rect x="161" y="174" width="6" height="1"/>
<rect x="634" y="174" width="6" height="1"/>
<rect x="286" y="61" width="1" height="6"/>
<rect x="286" y="534" width="1" height="6"/>
<rect x="161" y="186" width="6" height="1"/>
<rect x="634" y="186" width="6" height="1"/>
<rect x="298" y="61" width="1" height="6"/>
<rect x="298" y="534" width="1" height="6"/>
<rect x="161" y="198" width="6" height="1"/>
<rect x="634" y="198" width="6" height="1"/>
<rect x="310" y="61" width="1" height="6"/>
<rect x="310" y="534" width="1" height="6"/>
<rect x="161" y="210" width="6" height="1"/>
<rect x="634" y="210" width="6" height="1"/>
<rect x="322" y="61" width="1" height="6"/>
<rect x="322" y="534" width="1" height="6"/>
<rect x="161" y="222" width="6" height="1"/>
<rect x="634" y="222" width="6" height="1"/>
<rect x="334" y="61" width="1" height="6"/>
<rect x="334" y="534" width="1" height="6"/>
<rect x="161" y="234" width="6" height="1"/>
<rect x="634" y="234" width="6" height="1"/>
<rect x="346" y="61" width="1" height="6"/>
<rect x="346" y="534" width="1" height="6"/>
<rect x="161" y="246" width="6" height="1"/>
<rect x="634" y="246" width="6" height="1"/>
<rect x="358" y="61" width="1" height="6"/>
<rect x="358" y="534" width="1" height="6"/>
<rect x="161" y="258" width="6" height="1"/>
<rect x="634" y="258" width="6" height="1"/>
<rect x="370" y="61" width="1" height="6"/>
<rect x="370" y="534" width="1" height="6"/>
<rect x="161" y="270" width="6" height="1"/>
<rect x="634" y="270" width="6" height="1"/>
<rect x="382" y="61" width="1" height="6"/>
<rect x="382" y="534" width="1" height="6"/>
<rect x="161" y="282" width="6" height="1"/>
<rect x="634" y="282" width="6" height="1"/>
<rect x="394" y="61" width="1" height="6"/>
<rect x="394" y="534" width="1" height="6"/>
<rect x="161" y="294" width="6" height="1"/>
<rect x="634" y="294" width="6" height="1"/>
<rect x="406" y="61" width="1" height="6"/>
<rect x="406" y="534" width="1" height="6"/>
<rect x="161" y="306" width="6" height="1"/>
<rect x="634" y="306" width="6" height="1"/>
<rect x="418" y="61" width="1" height="6"/>
<rect x="418" y="534" width="1" height="6"/>
<rect x="161" y="318" width="6" height="1"/>
<rect x="634" y="318" width="6" height="1"/>
<rect x="430" y="61" width="1" height="6"/>
<rect x="430" y="534" width="1" height="6"/>
<rect x="161" y="330" width="6" height="1"/>
<rect x="634" y="330" width="6" height="1"/>
<rect x="442" y="61" width="1" height="6"/>
<rect x="442" y="534" width="1" height="6"/>
<rect x="161" y="342" width="6" height="1"/>
<rect x="634" y="342" width="6" height="1"/>
<rect x="454" y="61" width="1" height="6"/>
<rect x="454" y="534" width="1" height="6"/>
<rect x="161" y="354" width="6" height="1"/>
<rect x="634" y="354" width="6" height="1"/>
<rect x="466" y="61" width="1" height="6"/>
<rect x="466" y="534" width="1" height="6"/>
<rect x="161" y="366" width="6" height="1"/>
<rect x="634" y="366" width="6" height="1"/>
<rect x="478" y="61" width="1" height="6"/>
<rect x="478" y="534" width="1" height="6"/>
<rect x="161" y="378" width="6" height="1"/>
<rect x="634" y="378" width="6" height="1"/>
<rect x="490" y="61" width="1" height="6"/>
<rect x="490" y="534" width="1" height="6"/>
<rect x="161" y="390" width="6" height="1"/>
<rect x="634" y="390" width="6" height="1"/>
<rect x="502" y="61" width="1" height="6"/>
<rect x="502" y="534" width="1" height="6"/>
<rect x="161" y="402" width="6" height="1"/>
<rect x="634" y="402" width="6" height="1"/>
<rect x="514" y="61" width="1" height="6"/>
<rect x="514" y="534" width="1" height="6"/>
<rect x="161" y="414" width="6" height="1"/>
<rect x="634" y="414" width="6" height="1"/>
<rect x="526" y="61" width="1" height="6"/>
<rect x="526" y="534" width="1" height="6"/>
<rect x="161" y="426" width="6" height="1"/>
<rect x="634" y="426" width="6" height="1"/>
<rect x="538" y="61" width="1" height="6"/>
<rect x="538" y="534" width="1" height="6"/>
<rect x="161" y="438" width="6" height="1"/>
<rect x="634" y="438" width="6" height="1"/>
<rect x="550" y="61" width="1" height="6"/>
<rect x="550" y="534" width="1" height="6"/>
<rect x="161" y="450" width="6" height="1"/>
<rect x="634" y="450" width="6" height="1"/>
<rect x="562" y="61" width="1" height="6"/>
<rect x="562" y="534" width="1" height="6"/>
<rect x="161" y="462" width="6" height="1"/>
<rect x="634" y="462" width="6" height="1"/>
<rect x="574" y="61" width="1" height="6"/>
<rect x="574" y="534" width="1" height="6"/>
<rect x="161" y="474" width="6" height="1"/>
<rect x="634" y="474" width="6" height="1"/>
<rect x="586" y="61" width="1" height="6"/>
<rect x="586" y="534" width="1" height="6"/>
<rect x="161" y="486" width="6" height="1"/>
<rect x="634" y="486" width="6" height="1"/>
<rect x="598" y="61" width="1" height="6"/>
<rect x="598" y="534" width="1" height="6"/>
<rect x="161" y="498" width="6" height="1"/>
<rect x="634" y="498" width="6" height="1"/>
<rect x="610" y="61" width="1" height="6"/>
<rect x="610" y="534" width="1" height="6"/>
<rect x="161" y="510" width="6" height="1"/>
<rect x="634" y="510" width="6" height="1"/>
<rect x="622" y="61" width="1" height="6"/>
<rect x="622" y="534" width="1" height="6"/>
<rect x="161" y="522" width="6" height="1"/>
<rect x="634" y="522" width="6" height="1"/>
<rect x="634" y="61" width="1" height="6"/>
<rect x="634" y="534" width="1" height="6"/>
<rect x="161" y="534" width="6" height="1"/>
<rect x="634" y="534" width="6" height="1"/>
</g>
<defs><linearGradient id="cb" x1="0" y1="1" x2="0" y2="0"><stop offset="0.0000" stop-color="#f7fbff"/><stop offset="0.0312" stop-color="#f1f7fd"/><stop offset="0.0625" stop-color="#eaf3fb"/><stop offset="0.0938" stop-color="#e4eff9"/><stop offset="0.1250" stop-color="#deebf7"/><stop offset="0.1562" stop-color="#d8e7f5"/><stop offset="0.1875" stop-color="#d2e3f3"/><stop offset="0.2188" stop-color="#ccdff1"/><stop offset="0.2500" stop-color="#c6dbef"/><stop offset="0.2812" stop-color="#bcd7eb"/><stop offset="0.3125" stop-color="#b2d2e8"/><stop offset="0.3438" stop-color="#a8cee4"/><stop offset="0.3750" stop-color="#9dcae1"/><stop offset="0.4062" stop-color="#91c3de"/><stop offset="0.4375" stop-color="#84bcdb"/><stop offset="0.4688" stop-color="#77b5d9"/><stop offset="0.5000" stop-color="#6aaed6"/><stop offset="0.5312" stop-color="#60a7d2"/><stop offset="0.5625" stop-color="#56a0ce"/><stop offset="0.5938" stop-color="#4b98ca"/><stop offset="0.6250" stop-color="#4191c6"/><stop offset="0.6562" stop-color="#3989c1"/><stop offset="0.6875" stop-color="#3181bd"/><stop offset="0.7188" stop-color="#2979b9"/><stop offset="0.7500" stop-color="#2070b4"/><stop offset="0.7812" stop-color="#1a68ae"/><stop offset="0.8125" stop-color="#1460a8"/><stop offset="0.8438" stop-color="#0e58a2"/><stop offset="0.8750" stop-color="#08509b"/><stop offset="0.9062" stop-color="#08488e"/><stop offset="0.9375" stop-color="#084082"/><stop offset="0.9688" stop-color="#083776"/><stop offset="1.0000" stop-color="#08306b"/></linearGradient></defs>
<rect x="680" y="60" width="17" height="481" fill="url(#cb)"/>
<g fill="#000" shape-rendering="crispEdges">
<g fill-opacity="0.2"><rect x="679" y="59" width="19" height="1"/><rect x="679" y="541" width="19" height="1"/><rect x="679" y="60" width="1" height="481"/><rect x="697" y="60" width="1" height="481"/><rect x="681" y="61" width="15" height="1"/><rect x="681" y="539" width="15" height="1"/><rect x="681" y="62" width="1" height="477"/><rect x="695" y="62" width="1" height="477"/></g>
<rect x="680" y="60" width="17" height="1"/>
<rect x="680" y="540" width="17" height="1"/>
<rect x="680" y="60" width="1" height="481"/>
<rect x="696" y="60" width="1" height="481"/>
<rect x="690" y="491" width="6" height="1"/>
<rect x="690" y="442" width="6" height="1"/>
<rect x="690" y="393" width="6" height="1"/>
<rect x="690" y="345" width="6" height="1"/>
<rect x="690" y="296" width="6" height="1"/>
<rect x="690" y="247" width="6" height="1"/>
<rect x="690" y="198" width="6" height="1"/>
<rect x="690" y="149" width="6" height="1"/>
<rect x="690" y="100" width="6" height="1"/>
</g>
<g style="filter:grayscale(1)" stroke="#000" stroke-width="0.25">
<text x="0.0" y="54" text-anchor="middle" transform="translate(166.0 0) scale(1.020 1) translate(0.0 0)">C1&#39;</text>
<text x="0.0" y="54" text-anchor="middle" transform="translate(226.0 0) scale(1.020 1) translate(0.0 0)">C4&#39;</text>
<text x="0.0" y="54" text-anchor="middle" transform="translate(286.0 0) scale(1.020 1) translate(0.0 0)">N3</text>
<text x="0.0" y="54" text-anchor="middle" transform="translate(346.0 0) scale(1.020 1) translate(0.0 0)">O4&#39;</text>
<text x="0.0" y="54" text-anchor="middle" transform="translate(406.0 0) scale(1.020 1) translate(0.0 0)">C1&#39;</text>
<text x="0.0" y="54" text-anchor="middle" transform="translate(466.0 0) scale(1.020 1) translate(0.0 0)">C4&#39;</text>
<text x="0.0" y="54" text-anchor="middle" transform="translate(526.0 0) scale(1.020 1) translate(0.0 0)">N3</text>
<text x="0.0" y="54" text-anchor="middle" transform="translate(586.0 0) scale(1.020 1) translate(0.0 0)">O4&#39;</text>
<text x="0" y="72.0" text-anchor="end" transform="translate(155 0) scale(1.020 1)">C1&#39;</text>
<text x="0" y="132.0" text-anchor="end" transform="translate(155 0) scale(1.020 1)">C4&#39;</text>
<text x="0" y="192.0" text-anchor="end" transform="translate(155 0) scale(1.020 1)">N3</text>
<text x="0" y="252.0" text-anchor="end" transform="translate(155 0) scale(1.020 1)">O4&#39;</text>
<text x="0" y="312.0" text-anchor="end" transform="translate(155 0) scale(1.020 1)">C1&#39;</text>
<text x="0" y="372.0" text-anchor="end" transform="translate(155 0) scale(1.020 1)">C4&#39;</text>
<text x="0" y="432.0" text-anchor="end" transform="translate(155 0) scale(1.020 1)">N3</text>
<text x="0" y="492.0" text-anchor="end" transform="translate(155 0) scale(1.020 1)">O4&#39;</text>
<text x="0" y="546.0" transform="translate(701.5 0) scale(1.090 1)">0.00</text>
<text x="0" y="497.1" transform="translate(701.5 0) scale(1.090 1)">0.04</text>
<text x="0" y="448.3" transform="translate(701.5 0) scale(1.090 1)">0.08</text>
<text x="0" y="399.4" transform="translate(701.5 0) scale(1.090 1)">0.12</text>
<text x="0" y="350.6" transform="translate(701.5 0) scale(1.090 1)">0.16</text>
<text x="0" y="301.7" transform="translate(701.5 0) scale(1.090 1)">0.20</text>
<text x="0" y="252.9" transform="translate(701.5 0) scale(1.090 1)">0.24</text>
<text x="0" y="204.0" transform="translate(701.5 0) scale(1.090 1)">0.28</text>
<text x="0" y="155.2" transform="translate(701.5 0) scale(1.090 1)">0.32</text>
<text x="0" y="106.3" transform="translate(701.5 0) scale(1.090 1)">0.36</text>
</g>
</svg></body></html>
